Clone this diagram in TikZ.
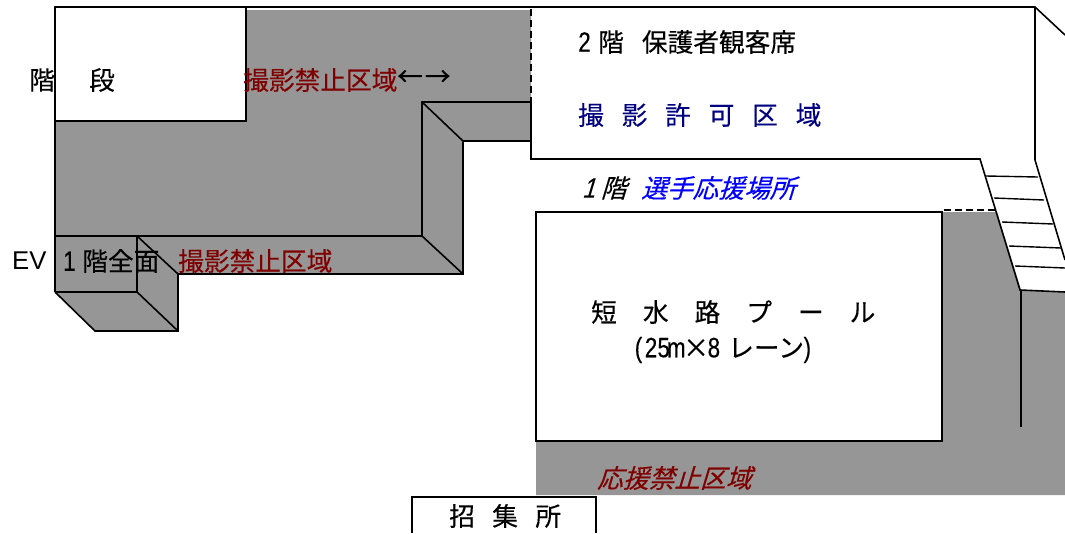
\documentclass[tikz,border=0pt]{standalone}
\usepackage{fontspec}
\setmainfont[FakeBold=0.25]{Noto Sans CJK JP}
\newfontfamily\slantfont[FakeSlant=0.3,FakeBold=0.25]{Noto Sans CJK JP}
\newfontfamily\halffont[FakeStretch=0.8,FakeBold=0.3]{Liberation Sans}
\newfontfamily\halfslant[FakeStretch=0.8,FakeSlant=0.3,FakeBold=0.3]{Liberation Sans}
\newfontfamily\arialfont{Liberation Sans}
\definecolor{floorgray}{RGB}{150,150,150}
\definecolor{banred}{RGB}{128,0,0}
\definecolor{oknavy}{RGB}{0,0,128}
\newcommand{\gap}[1]{\hspace{#1pt}}
\newcommand{\half}[1]{\makebox[12.6pt][c]{\fontsize{28}{30}\selectfont\halffont #1}}
\begin{document}
\begin{tikzpicture}[x=1pt, y=-1pt, line join=miter,
    wall/.style = {draw, line width=1.6pt},
    broken/.style = {wall, dash pattern=on 7pt off 4pt},
    tread/.style = {draw, line width=1.4pt},
    main/.style = {inner sep=0pt, anchor=west, font=\fontsize{25.7}{30}\selectfont},
    ban/.style = {main, text=banred}]

    \useasboundingbox (0, 0) rectangle (1065, 533);

    \fill[floorgray] (55, 10) -- (531, 10) -- (531, 141) -- (463, 141) -- (463, 274) -- (178, 274) -- (178, 331) -- (95, 331) -- (55, 292) -- cycle;
    \fill[floorgray] (942, 212) -- (997, 212) -- (1021, 290) -- (1065, 292) -- (1065, 495) -- (536, 495) -- (536, 441) -- (942, 441) -- cycle;

    %--------------------------------------------

    \draw[wall, fill=white] (55, 7) rectangle (246, 121);
    \draw[wall] (55, 121) -- (55, 292);
    \draw[wall] (246, 7) -- (1035, 7) -- (1065, 35);
    \draw[wall] (1035, 7) -- (1035, 160) -- (1065, 260);

    \draw[wall] (55, 236) -- (422, 236) -- (422, 102) -- (531, 102);
    \draw[wall] (55, 292) -- (95, 331) -- (178, 331) -- (178, 274) -- (463, 274) -- (463, 141) -- (531, 141);
    \draw[wall] (422, 102) -- (463, 141);
    \draw[wall] (422, 236) -- (463, 274);
    \draw[wall] (137, 236) -- (178, 274);
    \draw[wall] (137, 236) -- (137, 292) -- (55, 292);
    \draw[wall] (137, 292) -- (178, 331);

    %--------------------------------------------

    \draw[broken] (531, 9) -- (531, 102);
    \draw[wall] (531, 102) -- (531, 159) -- (980, 159) -- (1020, 290) -- (1065, 292);
    \draw[wall] (1021, 290) -- (1021, 427);
    \draw[wall, fill=white] (536, 212) rectangle (942, 441);
    \draw[broken] (944, 210) -- (996, 210);

    \draw[tread] (986, 176) -- (1038, 177);
    \draw[tread] (994, 198) -- (1044, 200);
    \draw[tread] (1002, 222) -- (1053, 224);
    \draw[tread] (1009, 246) -- (1061, 248);
    \draw[tread] (1015, 266) -- (1065, 268);

    \draw[wall] (412, 533) -- (412, 497) -- (596, 497) -- (596, 533);

    %--------------------------------------------

    \node[main] (stairL) at (29, 80) {階};
    \node[main] (stairR) at (89, 80) {段};
    \node[ban] (banTop) at (243, 80) {撮影禁止区域};
    \node[main] (arrows) at (397, 78) {←\gap{2}→};
    \node[main] (ev) at (12, 261) {\arialfont EV};
    \node[main] (floorAll) at (63, 261) {\half{1}\gap{6.5}階全面};
    \node[ban] (banLow) at (178, 261) {撮影禁止区域};

    \node[main] (gallery) at (578, 42) {\half{2}\gap{7.4}階\gap{18}保護者観客席};
    \node[main, text=oknavy] (allowed) at (578, 115) {撮\gap{17.8}影\gap{17.8}許\gap{17.8}可\gap{17.8}区\gap{17.8}域};
    \node[main] (floorOne) at (582, 188) {{\fontsize{28}{30}\selectfont\halfslant 1}\gap{6}{\slantfont 階}};
    \node[main, text=blue] (cheer) at (641, 188) {\slantfont 選手応援場所};

    \node[main] (pool) at (591, 312) {短\gap{26}水\gap{26}路\gap{26}プ\gap{26}ー\gap{26}ル};
    \node[main] (lanes) at (632, 350) {\half{(}\half{2}\half{5}\half{m}\gap{3}\makebox[21pt][c]{×}\gap{1}\half{8}\gap{8}レーン\gap{-3}\half{)}};
    \node[ban] (banCheer) at (597, 478) {\slantfont 応援禁止区域};
    \node[main] (callRoom) at (449, 516) {招\gap{17.4}集\gap{17.4}所};

\end{tikzpicture}
\end{document}
